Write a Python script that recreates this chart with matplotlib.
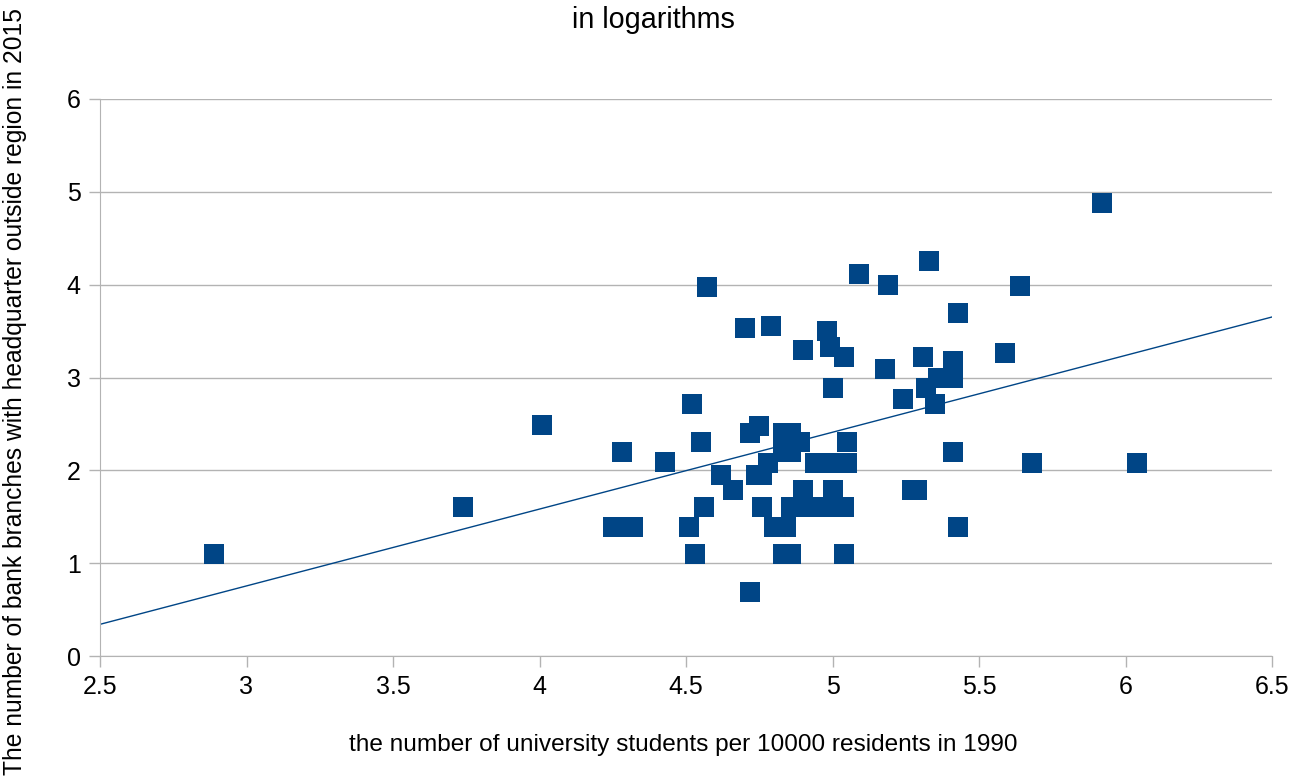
import matplotlib
matplotlib.use("Agg")
import matplotlib.pyplot as plt
import numpy as np
from matplotlib.ticker import FuncFormatter, MultipleLocator

plt.rcParams['font.family'] = ['Liberation Sans', 'DejaVu Sans']

students_1990 = [2.89, 3.74, 4.01, 4.25, 4.32, 4.28, 4.43, 4.52, 4.51, 4.53,
                 4.55, 4.56, 4.57, 4.62, 4.66, 4.72, 4.70, 4.72, 4.75, 4.79,
                 4.74, 4.76, 4.78, 4.76, 4.80, 4.84, 4.83, 4.86, 4.83, 4.86,
                 4.89, 4.83, 4.86, 4.90, 4.90, 4.86, 4.90, 4.95, 4.99, 5.04,
                 4.94, 4.98, 5.01, 5.05, 5.00, 4.98, 4.99, 5.04, 5.00, 5.05,
                 5.04, 5.09, 5.19, 5.18, 5.24, 5.27, 5.29, 5.31, 5.32, 5.33,
                 5.35, 5.36, 5.41, 5.41, 5.41, 5.43, 5.43, 5.59, 5.64, 5.68,
                 5.92, 6.04]
branches_2015 = [1.10, 1.61, 2.49, 1.39, 1.39, 2.20, 2.09, 2.71, 1.39, 1.10,
                 2.31, 1.61, 3.98, 1.95, 1.79, 0.69, 3.53, 2.40, 2.48, 3.56,
                 1.95, 1.95, 2.08, 1.61, 1.39, 1.39, 1.10, 1.10, 2.40, 2.40,
                 2.30, 2.20, 2.20, 3.30, 1.79, 1.61, 1.61, 1.61, 1.61, 1.61,
                 2.08, 2.08, 2.08, 2.08, 1.79, 3.50, 3.33, 3.22, 2.89, 2.30,
                 1.10, 4.11, 4.00, 3.09, 2.77, 1.79, 1.79, 3.22, 2.89, 4.25,
                 2.71, 3.00, 3.00, 3.18, 2.20, 1.39, 3.69, 3.26, 3.99, 2.08,
                 4.88, 2.08]

title = "in logarithms"
xlabel = "the number of university students per 10000 residents in 1990"
ylabel = "The number of bank branches with headquarter outside region in 2015"

color = "#004586"
grid_color = "#b3b3b3"

fig = plt.figure(figsize=(13.03, 7.79), dpi=100)
ax = fig.add_axes([100/1303, 1-656/779, (1272-100)/1303, (656-99)/779])

x = np.array(students_1990)
y = np.array(branches_2015)
ax.scatter(x, y, marker='s', s=205, color=color, linewidths=0, zorder=3)

slope, intercept = np.polyfit(x, y, 1)
xl = np.array([2.5, 6.5])
ax.plot(xl, slope*xl + intercept, color=color, lw=1, zorder=2)

ax.set_xlim(2.5, 6.5)
ax.set_ylim(0, 6)
ax.xaxis.set_major_locator(MultipleLocator(0.5))
ax.yaxis.set_major_locator(MultipleLocator(1))
ax.xaxis.set_major_formatter(FuncFormatter(lambda v, p: f"{v:g}"))
ax.yaxis.set_major_formatter(FuncFormatter(lambda v, p: f"{v:g}"))
ax.grid(axis='y', color=grid_color, lw=1)
ax.set_axisbelow(True)
for s in ['top', 'right']:
    ax.spines[s].set_visible(False)
for s in ['left', 'bottom']:
    ax.spines[s].set_color(grid_color)
ax.tick_params(axis='both', colors=grid_color, labelcolor='black', labelsize=18,
               length=8, width=1)
ax.tick_params(axis='x', pad=6)
ax.tick_params(axis='y', pad=6)

fig.text(653/1303, 1-20/779, title, ha='center', va='center', fontsize=20.7)
fig.text(683/1303, 1-745/779, xlabel, ha='center', va='center', fontsize=17.6)
fig.text(15/1303, 1-392/779, ylabel, ha='center', va='center', rotation=90, fontsize=17.7)

fig.savefig("out.png", dpi=100)
